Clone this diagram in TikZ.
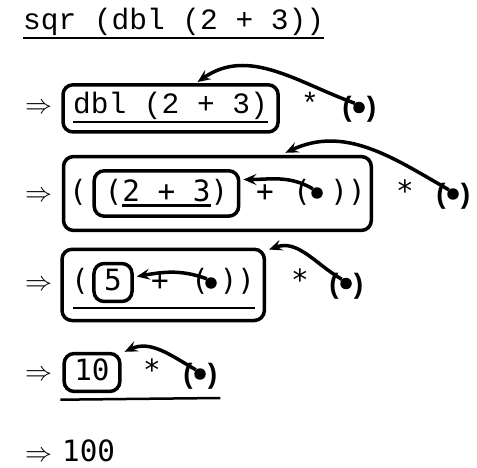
\documentclass[tikz,border=0pt]{standalone}
\usepackage{graphicx}
\usepackage{fontspec}
\usepackage{tikz}
\usetikzlibrary{arrows.meta, fit}

\newfontfamily\monofam{Liberation Mono}
\newfontfamily\vmonofam{DejaVu Sans Mono}
\newfontfamily\holefam{Liberation Sans Bold}

\begin{document}
\begin{tikzpicture}[x=1pt, y=1pt,
        code/.style={font=\monofam\fontsize{29.5}{30}\selectfont, inner sep=0pt,
                     text height=19pt, text depth=4pt},
        vcode/.style={code, font=\vmonofam\fontsize{29.3}{30}\selectfont},
        paren/.style={font=\holefam\fontsize{28}{28}\selectfont, inner sep=0pt, anchor=base},
        dot/.style={circle, fill, inner sep=0pt, minimum size=11.5pt},
        yields/.style={inner sep=0pt, anchor=base west},
        redex/.style={draw, line width=3.5pt, rounded corners=10pt},
        uline/.style={line width=2.5pt},
        ptr/.style={line width=3.5pt, -{Stealth[length=13pt, width=11pt, inset=5pt]}}]

    \useasboundingbox (0,0) rectangle (477,-468);

    % sqr (dbl (2 + 3))
    \node[code, anchor=base west] (e1) at (23,-30) {sqr (dbl (2 + 3))};
    \draw[uline] ([yshift=-8pt]e1.base west) -- ([yshift=-8pt]e1.base east);

    % step 1
    \node[yields] (y2) at (25,-114) {\scalebox{2.7}{$\Rightarrow$}};
    \node[code, anchor=base west] (e2) at (73,-114) {dbl (2 + 3)};
    \draw[uline] ([yshift=-8pt]e2.base west) coordinate (u2a) -- ([yshift=-8pt]e2.base east) coordinate (u2b);
    \node[redex, fit=(e2)(u2a)(u2b), inner sep=10pt] (b2) {};
    \node[code, anchor=base] (m2) at (310,-114) {*};
    \node[paren] (l2) at (347,-117) {(};
    \node[dot] (p2) at (359,-107.5) {};
    \node[paren] (r2) at (371.5,-117) {)};
    \draw[ptr] (p2.135) to[out=160, in=35] ([xshift=27pt, yshift=1pt]b2.north);

    % step 2
    \node[yields] (y3) at (25,-201) {\scalebox{2.7}{$\Rightarrow$}};
    \node[vcode, anchor=base west] (c3) at (69,-201) {(};
    \node[vcode, anchor=base west] (e3) at (104.5,-201) {(2 + 3)};
    \draw[uline] ([xshift=17.7pt, yshift=-4.5pt]e3.base west) -- ([xshift=-17.7pt, yshift=-4.5pt]e3.base east);
    \node[redex, fit=(e3), inner xsep=10.3pt, inner ysep=11pt] (n3) {};
    \node[vcode, anchor=base] (k3) at (265,-201) {+};
    \node[vcode, anchor=base] (c3b) at (302,-201) {(};
    \node[dot] (p3) at (317,-193) {};
    \node[vcode, anchor=base] (c3c) at (348,-201) {))};
    \node[redex, fit=(c3)(n3)(c3c), inner xsep=5.5pt, inner ysep=12.5pt] (o3) {};
    \node[vcode, anchor=base] (m3) at (405,-201) {*};
    \node[paren] (l3) at (441,-204) {(};
    \node[dot] (q3) at (453,-194) {};
    \node[paren] (r3) at (465.5,-204) {)};
    \draw[ptr] (p3.135) to[out=150, in=0] ([xshift=3pt, yshift=14pt]n3.east);
    \draw[ptr] (q3.135) to[out=150, in=25] ([xshift=68pt, yshift=2pt]o3.north);

    % step 3
    \node[yields] (y4) at (25,-290) {\scalebox{2.7}{$\Rightarrow$}};
    \node[vcode, anchor=base west] (c4) at (71,-290) {(};
    \node[vcode, anchor=base] (e4) at (113,-290) {5};
    \node[redex, fit=(e4), inner xsep=10pt, inner ysep=7.25pt] (n4) {};
    \node[vcode, anchor=base] (k4) at (160,-290) {+};
    \node[vcode, anchor=base] (c4b) at (200,-290) {(};
    \node[dot] (p4) at (211,-283) {};
    \node[vcode, anchor=base] (c4c) at (237.5,-290) {))};
    \draw[uline] ([xshift=2pt, yshift=-18pt]c4.base west) coordinate (u4a) -- ([yshift=-18pt]c4c.base east) coordinate (u4b);
    \node[redex, fit=(c4)(n4)(c4c)(u4a)(u4b), inner xsep=9pt, inner ysep=12.5pt] (o4) {};
    \node[vcode, anchor=base] (m4) at (300,-290) {*};
    \node[paren] (l4) at (334,-293) {(};
    \node[dot] (q4) at (346,-283.5) {};
    \node[paren] (r4) at (358.5,-293) {)};
    \draw[ptr] (p4.135) to[out=160, in=10] ([xshift=3pt, yshift=6pt]n4.east);
    \draw[ptr] (q4.135) to[out=150, in=20] ([xshift=3pt, yshift=-2pt]o4.north east);

    % step 4
    \node[yields] (y5) at (25,-380) {\scalebox{2.7}{$\Rightarrow$}};
    \node[vcode, anchor=base] (e5) at (92,-380) {10};
    \node[redex, fit=(e5), inner xsep=10pt, inner ysep=7.25pt] (n5) {};
    \node[vcode, anchor=base] (m5) at (152,-380) {*};
    \node[paren] (l5) at (188,-383) {(};
    \node[dot] (q5) at (200,-374) {};
    \node[paren] (r5) at (212.5,-383) {)};
    \draw[uline] ([xshift=-2pt, yshift=-6.5pt]n5.south west) -- ([xshift=3pt, yshift=-15pt]r5.base east);
    \draw[ptr] (q5.135) to[out=150, in=25] ([xshift=3pt]n5.north east);

    % result
    \node[yields] (y6) at (25,-461) {\scalebox{2.7}{$\Rightarrow$}};
    \node[vcode, anchor=base west] (e6) at (62,-461) {100};

\end{tikzpicture}
\end{document}
